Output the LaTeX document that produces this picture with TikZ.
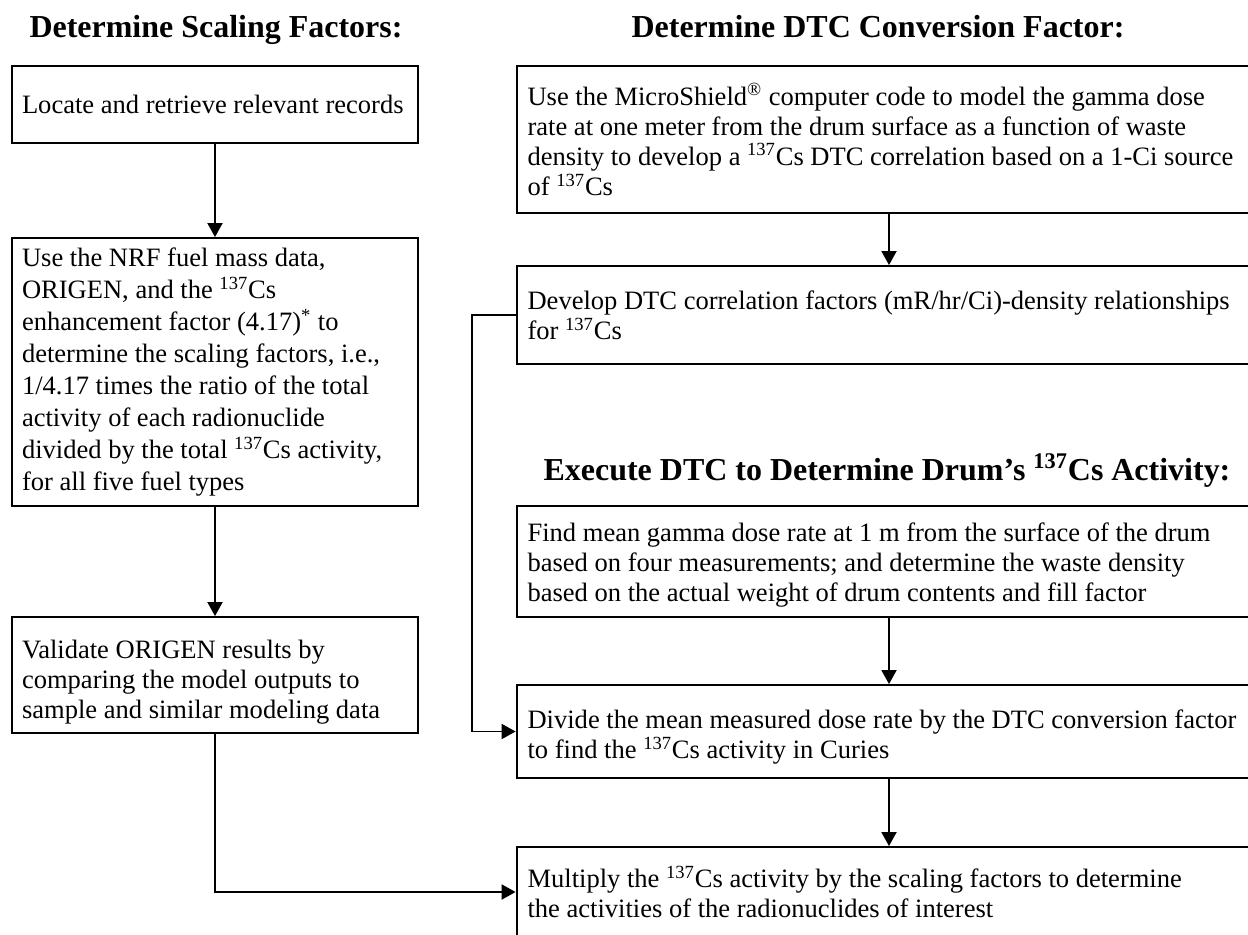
\documentclass[tikz,border=0pt]{standalone}
\usepackage{fontspec}
\setmainfont{Liberation Serif}
\usetikzlibrary{
	arrows.meta,
	positioning
}
\newcommand{\bodyfont}{\fontsize{15.1}{17.1}\selectfont}
\newcommand{\loosefont}{\fontsize{15.1}{18.2}\selectfont}
\newcommand{\headfont}{\fontsize{18.2}{20}\selectfont\bfseries}
\newcommand{\cs}{\textsuperscript{137}Cs}
\tikzset{
	>={Triangle[length=0.28cm, width=0.3cm]},
	link/.style={->, line width=1.1pt},
	stepbox/.style={draw, rectangle, line width=1.1pt, align=flush left, inner ysep=0pt, font=\bodyfont},
	leftbox/.style={stepbox, inner xsep=0.2cm, text width=7.72cm, minimum height=#1},
	rightbox/.style={stepbox, inner xsep=0.22cm, text width=14.46cm, minimum height=#1},
	heading/.style={anchor=base, font=\headfont}
}

\begin{document}
\begin{tikzpicture}[x=0.02cm, y=-0.02cm]
	\useasboundingbox (0,0) rectangle (1248,934);

	% headings
	\node[heading] (tscale) at (216,37) {Determine Scaling Factors:};
	\node[heading] (tconv) at (878,37) {Determine DTC Conversion Factor:};
	\node[heading] (texec) at (887,480) {Execute DTC to Determine Drum’s \cs{} Activity:};

	% scaling factors
	\node[leftbox=1.54cm] (locate) at (215,104.5) {Locate and retrieve relevant records};
	\node[leftbox=5.36cm, font=\loosefont] (origen) at (215,372) {Use the NRF fuel mass data,\\
		ORIGEN, and the \cs\\
		enhancement factor (4.17)\textsuperscript{*} to\\
		determine the scaling factors, i.e.,\\
		1/4.17 times the ratio of the total\\
		activity of each radionuclide\\
		divided by the total \cs{} activity,\\
		for all five fuel types};
	\node[leftbox=2.32cm] (validate) at (215,675) {\rule{0pt}{0.64cm}Validate ORIGEN results by\\
		comparing the model outputs to\\
		sample and similar modeling data};

	% conversion factor
	\node[rightbox=2.94cm] (model) at (889,139.5) {Use the MicroShield\textsuperscript{®} computer code to model the gamma dose\\
		rate at one meter from the drum surface as a function of waste\\
		density to develop a \cs{} DTC correlation based on a 1-Ci source\\
		of \cs};
	\node[rightbox=1.96cm] (corr) at (889,315) {Develop DTC correlation factors (mR/hr/Ci)-density relationships\\
		for \cs};

	% executing the DTC
	\node[rightbox=2.22cm] (mean) at (889,561.5) {\rule{0pt}{0.52cm}Find mean gamma dose rate at 1 m from the surface of the drum\\
		based on four measurements; and determine the waste density\\
		based on the actual weight of drum contents and fill factor};
	\node[rightbox=1.86cm] (divide) at (889,731.5) {\rule{0pt}{0.6cm}Divide the mean measured dose rate by the DTC conversion factor\\
		to find the \cs{} activity in Curies};
	\node[rightbox=1.8cm] (multiply) at (889,892) {Multiply the \cs{} activity by the scaling factors to determine\\
		the activities of the radionuclides of interest};

	\draw[link] (locate) -- (origen);
	\draw[link] (origen) -- (validate);
	\draw[link] (validate.south) |- (multiply.west);
	\draw[link] (model) -- (corr);
	\draw[link] (corr.west) -- ++(-44,0) |- (divide.west);
	\draw[link] (mean) -- (divide);
	\draw[link] (divide) -- (multiply);
\end{tikzpicture}
\end{document}
